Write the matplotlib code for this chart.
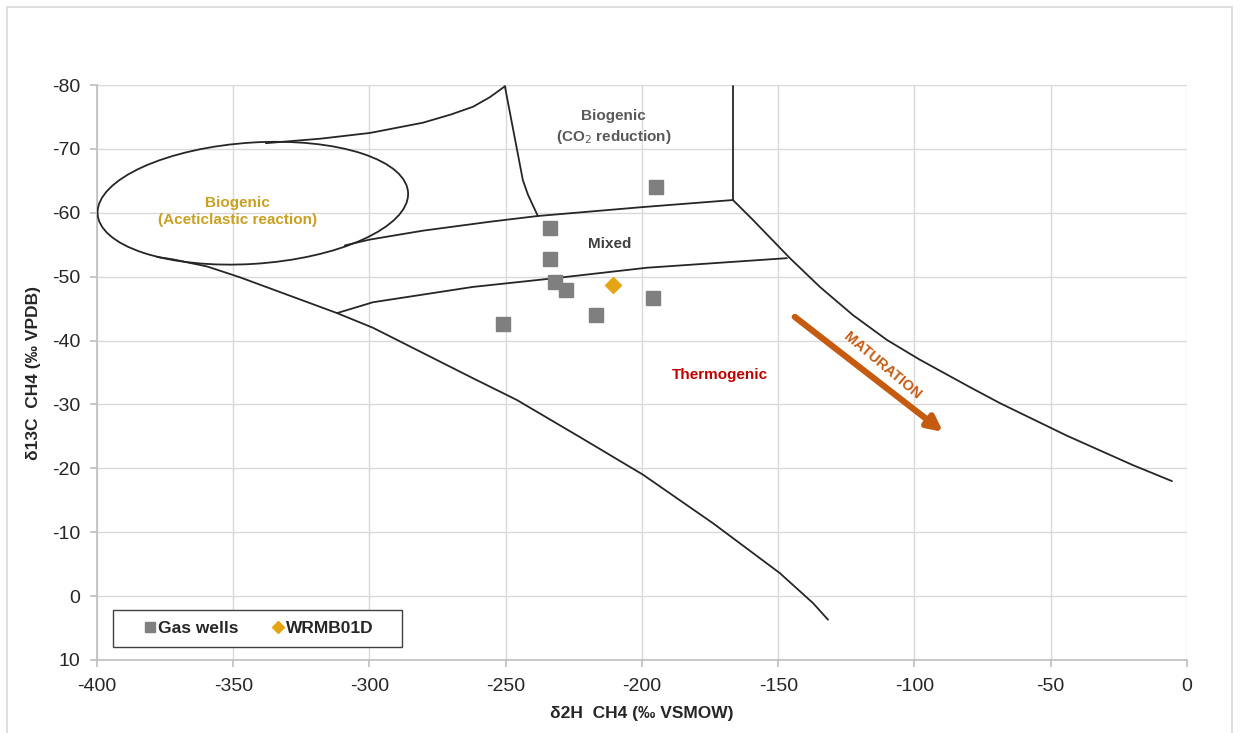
import numpy as np
import matplotlib.pyplot as plt
from matplotlib.patches import Ellipse, Rectangle
from matplotlib.lines import Line2D

plt.rcParams['font.family'] = ['Liberation Sans', 'DejaVu Sans']
plt.rcParams['axes.unicode_minus'] = False

# --------------------------
# Sample data
# --------------------------
wells_d2h = [-194.9, -233.8, -233.8, -231.9, -227.9, -196.0, -216.9, -251.0]
wells_d13c = [-64.0, -57.6, -52.8, -49.2, -47.9, -46.7, -44.0, -42.6]
wrmb_d2h = [-210.6]
wrmb_d13c = [-48.7]

# --------------------------
# Field boundaries
# --------------------------
ell_center = (-342.8, -61.5)
ell_width = 114.0
ell_height = 19.0
ell_angle = -1.5

upper_x = [-338.0, -318.0, -299.8, -280.4, -270.0, -262.0, -255.8, -250.3]
upper_y = [-70.9, -71.6, -72.5, -74.1, -75.4, -76.6, -78.1, -79.8]

co2_left_x = [-250.3, -243.7, -241.8, -238.2]
co2_left_y = [-79.8, -65.1, -62.8, -59.5]

mix_top_x = [-309.0, -300.0, -280.4, -255.8, -238.2, -199.6, -166.6]
mix_top_y = [-54.9, -55.8, -57.2, -58.6, -59.5, -60.9, -62.0]

co2_right_x = [-166.6, -166.6]
co2_right_y = [-62.0, -79.8]

therm_right_x = [-166.6, -159.3, -145.7, -134.7, -122.6, -110.1, -98.0, -79.6,
                 -68.6, -44.0, -19.8, -5.5]
therm_right_y = [-62.0, -58.9, -52.9, -48.4, -44.0, -40.1, -37.0, -32.7,
                 -30.2, -25.1, -20.5, -18.0]

mix_bot_x = [-311.9, -298.7, -262.0, -231.2, -198.2, -146.8]
mix_bot_y = [-44.3, -46.0, -48.4, -49.8, -51.4, -52.9]

lower_x = [-378.0, -372.0, -359.6, -347.5, -311.9, -298.7, -262.0, -245.9,
           -222.8, -199.6, -173.9, -149.4, -137.2, -131.7]
lower_y = [-53.1, -52.7, -51.6, -49.9, -44.3, -42.0, -34.1, -30.7,
           -24.9, -19.0, -11.4, -3.6, 1.1, 3.7]

arrow_start = (-143.9, -43.7)
arrow_end = (-89.5, -25.7)

x_ticks = list(range(-400, 1, 50))
y_ticks = list(range(-80, 11, 10))

# --------------------------
# Plot
# --------------------------
fig = plt.figure(figsize=(12.4, 7.33), dpi=100)
ax = fig.add_axes([0.0782, 0.0996, 0.879, 0.7844])

# outer frame of the figure
fig.patches.append(Rectangle((0.0056, -0.1), 0.988, 1.09, transform=fig.transFigure,
                             fill=False, edgecolor='#D9D9D9', lw=1.2))

lc = '#262626'
lw = 1.3
ax.add_patch(Ellipse(ell_center, ell_width, ell_height, angle=ell_angle,
                     fill=False, edgecolor=lc, lw=lw, zorder=3))
for xs, ys in [(upper_x, upper_y), (co2_left_x, co2_left_y), (mix_top_x, mix_top_y),
               (co2_right_x, co2_right_y), (therm_right_x, therm_right_y),
               (mix_bot_x, mix_bot_y), (lower_x, lower_y)]:
    ax.plot(xs, ys, color=lc, lw=lw, zorder=3, solid_capstyle='round',
            solid_joinstyle='round')

ax.plot(wells_d2h, wells_d13c, ls='none', marker='s', markersize=9.5,
        color='#7F7F7F', zorder=4)
ax.plot(wrmb_d2h, wrmb_d13c, ls='none', marker='D', markersize=8.5,
        color='#E5A413', zorder=4)

# maturation arrow
ax.annotate('', xy=arrow_end, xytext=arrow_start,
            arrowprops=dict(arrowstyle='-|>', color='#C55A11', lw=4.5,
                            mutation_scale=22, shrinkA=0, shrinkB=0), zorder=5)
ax.text(-111.6, -36.0, 'MATURATION', color='#C55A11', fontsize=10.5, fontweight='bold',
        rotation=-40, ha='center', va='center', rotation_mode='anchor')

# field labels
ax.text(-210.5, -73.3, 'Biogenic\n(CO$_2$ reduction)', color='#595959', fontsize=11,
        fontweight='bold', ha='center', va='center', linespacing=1.4)
ax.text(-212, -55.1, 'Mixed', color='#404040', fontsize=11, fontweight='bold',
        ha='center', va='center')
ax.text(-348.3, -60.2, 'Biogenic\n(Aceticlastic reaction)', color='#C9A020', fontsize=11,
        fontweight='bold', ha='center', va='center', linespacing=1.35)
ax.text(-171.4, -34.6, 'Thermogenic', color='#C00000', fontsize=11, fontweight='bold',
        ha='center', va='center')

# axes
ax.set_xlim(-400, 0)
ax.set_ylim(10, -80)
ax.set_xticks(x_ticks)
ax.set_yticks(y_ticks)
ax.grid(True, color='#D9D9D9', lw=1)
ax.set_axisbelow(True)
for s in ['top', 'right']:
    ax.spines[s].set_visible(False)
for s in ['left', 'bottom']:
    ax.spines[s].set_color('#BFBFBF')
    ax.spines[s].set_linewidth(1.2)
ax.tick_params(axis='both', colors='#BFBFBF', labelcolor='#262626', labelsize=14,
               length=5, width=1.2, direction='out')
ax.tick_params(axis='y', pad=7)
ax.tick_params(axis='x', pad=8)

ax.set_xlabel('δ2H  CH4 (‰ VSMOW)', fontsize=12.5, fontweight='bold', color='#262626',
              labelpad=8)
ax.set_ylabel('δ13C  CH4 (‰ VPDB)', fontsize=12.5, fontweight='bold', color='#262626',
              labelpad=8)

# legend: box drawn separately, entries placed inside it
ax.add_patch(Rectangle((0.0147, 0.0226), 0.2651, 0.0644, transform=ax.transAxes,
                       fill=True, facecolor='white', edgecolor='#404040', lw=1.0,
                       zorder=6))
handles = [Line2D([], [], ls='none', marker='s', markersize=7.5, color='#7F7F7F'),
           Line2D([], [], ls='none', marker='D', markersize=6, color='#E5A413')]
leg = ax.legend(handles, ['Gas wells', 'WRMB01D'], loc='center left', ncol=2,
                bbox_to_anchor=(0.044, 0.0548), borderaxespad=0, frameon=False,
                prop={'weight': 'bold', 'size': 12.5}, handlelength=0.6,
                handletextpad=0.15, borderpad=0, columnspacing=2.0)
leg.set_zorder(7)
for t in leg.get_texts():
    t.set_color('#262626')

plt.savefig('out.png', dpi=100)
